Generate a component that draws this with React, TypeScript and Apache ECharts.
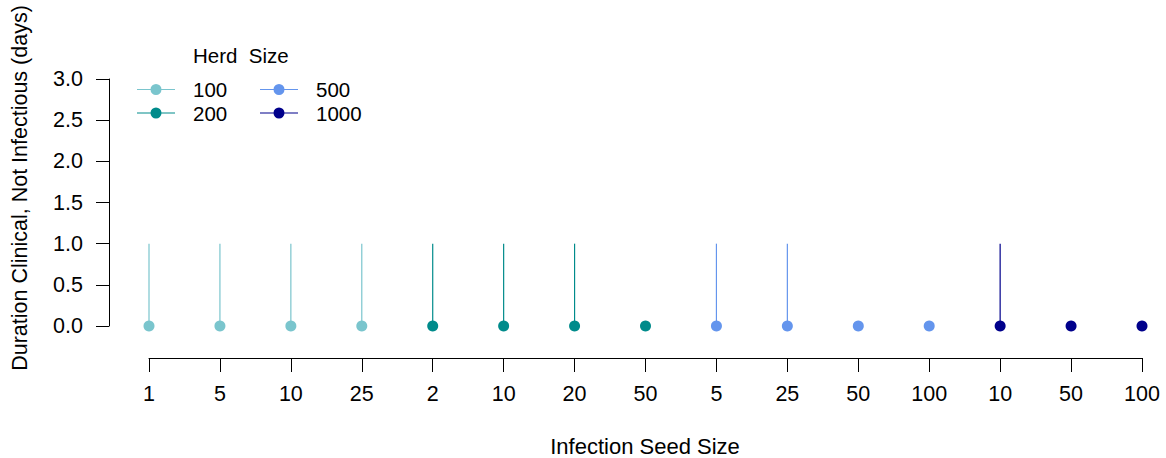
import React, { useEffect, useRef } from "react";
import * as echarts from "echarts";

// Infection seed sizes, grouped by herd size (left to right)
const seedLabels = ["1", "5", "10", "25", "2", "10", "20", "50", "5", "25", "50", "100", "10", "50", "100"];
const herdSizes = ["100", "200", "500", "1000"];
const herdColors = ["#7AC5CD", "#008B8B", "#6495ED", "#00008B"];
// index of first seed position in each herd group
const groupStart = [0, 4, 8, 12];
const groupCount = [4, 4, 4, 3];
// mean duration (days) at each seed position
const meanDays = [0, 0, 0, 0, 0, 0, 0, 0, 0, 0, 0, 0, 0, 0, 0];
// upper end of the range (days) at each seed position
const upperDays = [1, 1, 1, 1, 1, 1, 1, 0, 1, 1, 0, 0, 1, 0, 0];
const yTicks = [0, 0.5, 1, 1.5, 2, 2.5, 3];

const FONT = "'Liberation Sans', Arial, Helvetica, sans-serif";
const legendIcon =
  "path://M0,5 L38,5 L38,6 L0,6 Z M13.5,5.5 A5.5,5.5 0 1 1 24.5,5.5 A5.5,5.5 0 1 1 13.5,5.5 Z";

export default function App() {
  const ref = useRef<HTMLDivElement>(null);

  useEffect(() => {
    if (!ref.current) return;
    const chart = echarts.init(ref.current, null, { renderer: "svg" });

    const series = herdSizes.map((name, g) => {
      const data: number[][] = [];
      for (let k = 0; k < groupCount[g]; k++) {
        const i = groupStart[g] + k;
        data.push([i, meanDays[i], upperDays[i]]);
      }
      return {
        name,
        type: "custom",
        xAxisIndex: 0,
        yAxisIndex: 0,
        itemStyle: { color: herdColors[g] },
        data,
        renderItem: (params: any, api: any) => {
          const x = api.value(0);
          const base = api.coord([x, api.value(1)]);
          const top = api.coord([x, api.value(2)]);
          const children: any[] = [];
          if (api.value(2) > api.value(1)) {
            children.push({
              type: "line",
              shape: { x1: base[0], y1: base[1], x2: top[0], y2: top[1] },
              style: { stroke: herdColors[g], lineWidth: 1.2 },
            });
          }
          children.push({
            type: "circle",
            shape: { cx: base[0], cy: base[1], r: 5.5 },
            style: { fill: herdColors[g] },
          });
          return { type: "group", children };
        },
      };
    });

    const legendBase = {
      orient: "vertical",
      top: 79,
      padding: 0,
      icon: legendIcon,
      itemWidth: 38,
      itemHeight: 11,
      itemGap: 2.5,
      selectedMode: false,
      textStyle: { fontFamily: FONT, fontSize: 20.5, color: "#000", lineHeight: 20, padding: [0, 0, 0, 13] },
    };

    chart.setOption({
      animation: false,
      textStyle: { fontFamily: FONT },
      grid: [
        // plotting region
        { left: 149, top: 79, width: 993, height: 247 },
        // detached x axis below the plotting region
        { left: 149, top: 300, width: 993, height: 58 },
      ],
      legend: [
        { ...legendBase, left: 137, data: ["100", "200"] },
        { ...legendBase, left: 260, data: ["500", "1000"] },
      ],
      xAxis: [
        {
          type: "category",
          gridIndex: 0,
          data: seedLabels,
          boundaryGap: false,
          show: false,
        },
        {
          type: "category",
          gridIndex: 1,
          data: seedLabels,
          boundaryGap: false,
          position: "bottom",
          axisLine: { show: true, lineStyle: { color: "#000", width: 1 } },
          axisTick: { show: true, length: 14, lineStyle: { color: "#000", width: 1 } },
          axisLabel: { interval: 0, margin: 25, fontSize: 21.5, color: "#000", fontFamily: FONT },
          splitLine: { show: false },
        },
      ],
      yAxis: [
        {
          type: "value",
          gridIndex: 0,
          min: 0,
          max: 3,
          interval: 0.5,
          offset: 40,
          axisLine: { show: true, lineStyle: { color: "#000", width: 1 } },
          axisTick: { show: true, length: 13, lineStyle: { color: "#000", width: 1 } },
          axisLabel: {
            margin: 26,
            fontSize: 21.5,
            color: "#000",
            fontFamily: FONT,
            formatter: (v: number) => (yTicks.includes(v) ? v.toFixed(1) : ""),
          },
          splitLine: { show: false },
        },
        {
          type: "value",
          gridIndex: 1,
          show: false,
          min: 0,
          max: 1,
        },
      ],
      series,
      graphic: [
        {
          type: "text",
          x: 645,
          y: 446,
          style: {
            text: "Infection Seed Size",
            font: `22px ${FONT}`,
            fill: "#000",
            align: "center",
            verticalAlign: "middle",
          },
        },
        {
          type: "text",
          x: 20,
          y: 188,
          rotation: Math.PI / 2,
          style: {
            text: "Duration Clinical, Not Infectious (days)",
            font: `21.5px ${FONT}`,
            fill: "#000",
            align: "center",
            verticalAlign: "middle",
          },
        },
        {
          type: "text",
          x: 193,
          y: 55,
          style: {
            text: "Herd  Size",
            font: `20.5px ${FONT}`,
            fill: "#000",
            align: "left",
            verticalAlign: "middle",
          },
        },
      ],
    });

    return () => chart.dispose();
  }, []);

  return (
    <div
      ref={ref}
      style={{ position: "fixed", left: 0, top: 0, width: 1166, height: 458, background: "#fff" }}
    />
  );
}
